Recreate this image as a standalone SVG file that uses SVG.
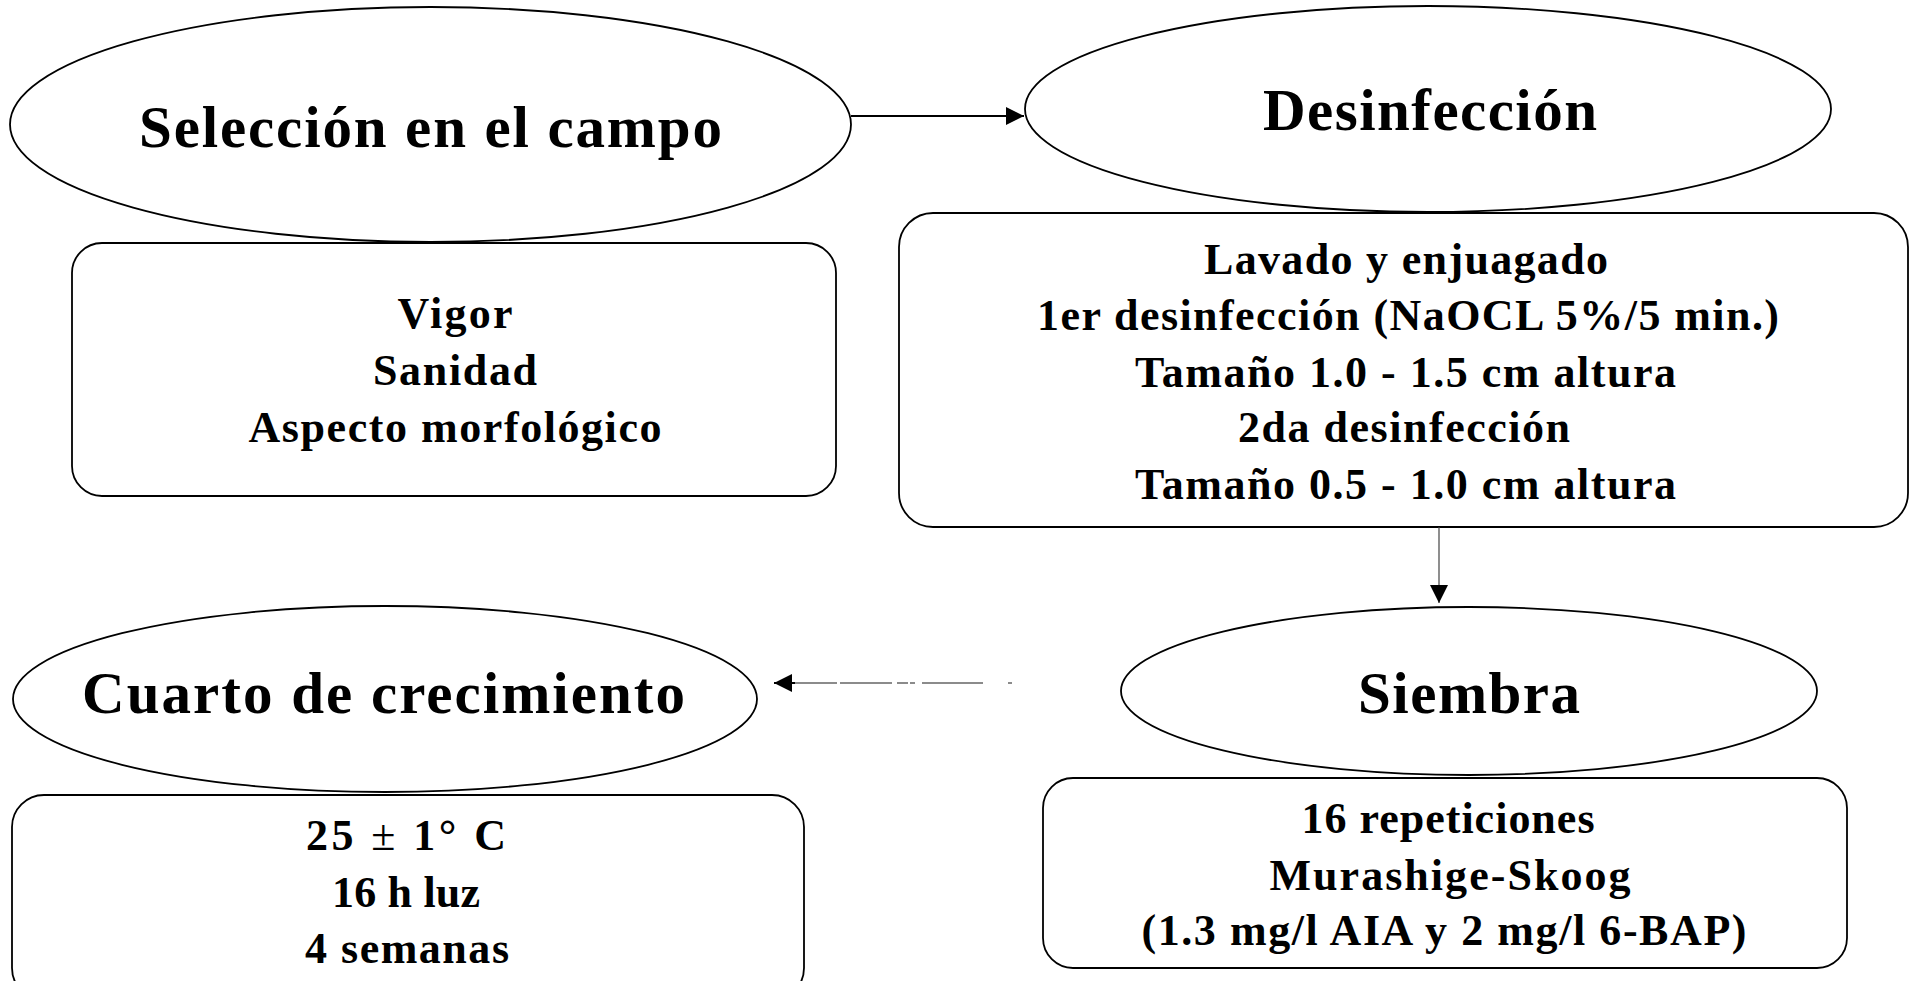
<svg xmlns="http://www.w3.org/2000/svg" width="1916" height="981" viewBox="0 0 1916 981">
<style>
  .shape { fill: #ffffff; stroke: #000000; stroke-width: 1.8; }
  .big { font-family: "Liberation Serif", "Times New Roman", serif; font-weight: bold; font-size: 59px; fill: #000; text-anchor: middle; }
  .small { font-family: "Liberation Serif", "Times New Roman", serif; font-weight: bold; font-size: 44px; fill: #000; text-anchor: middle; }
  .pm { font-weight: normal; }
  .conn { stroke: #000; stroke-width: 2; fill: none; }
  .thin { stroke: #444; stroke-width: 1.2; fill: none; }
  .dashed { stroke: #666; stroke-width: 1.6; fill: none; stroke-dasharray: 4 25 61 7 5 2 11 5 52 3 44; }
</style>
<defs>
  <marker id="arrow" viewBox="0 0 18 18" refX="18" refY="9" markerWidth="18" markerHeight="18" markerUnits="userSpaceOnUse" orient="auto">
    <path d="M0,0 L18,9 L0,18 z" fill="#000"/>
  </marker>
</defs>
<rect width="1916" height="981" fill="#ffffff"/>

<g id="node-seleccion-detalle">
  <rect class="shape" x="72" y="243" width="764" height="253" rx="30" ry="30"/>
  <text class="small" x="455" y="328" textLength="115">Vigor</text>
  <text class="small" x="455" y="385" textLength="164">Sanidad</text>
  <text class="small" x="455" y="442" textLength="413">Aspecto morfológico</text>
</g>
<g id="node-seleccion">
  <ellipse class="shape" cx="430.5" cy="124.5" rx="420.5" ry="117.5"/>
  <text class="big" x="430.5" y="147" textLength="583">Selección en el campo</text>
</g>

<g id="node-desinfeccion-detalle">
  <rect class="shape" x="899" y="213" width="1009" height="314" rx="34" ry="34"/>
  <text class="small" x="1406" y="274" textLength="404">Lavado y enjuagado</text>
  <text class="small" x="1408" y="330" textLength="742">1er desinfección (NaOCL 5%/5 min.)</text>
  <text class="small" x="1405.5" y="387" textLength="541">Tamaño 1.0 - 1.5 cm altura</text>
  <text class="small" x="1404" y="442" textLength="332">2da desinfección</text>
  <text class="small" x="1405.5" y="499" textLength="541">Tamaño 0.5 - 1.0 cm altura</text>
</g>
<g id="node-desinfeccion">
  <ellipse class="shape" cx="1428" cy="109" rx="403" ry="103"/>
  <text class="big" x="1430" y="130" textLength="334">Desinfección</text>
</g>

<g id="node-siembra-detalle">
  <rect class="shape" x="1043" y="778" width="804" height="190" rx="30" ry="30"/>
  <text class="small" x="1448" y="833" textLength="293">16 repeticiones</text>
  <text class="small" x="1450" y="890" textLength="361">Murashige-Skoog</text>
  <text class="small" x="1444" y="945" textLength="605">(1.3 mg/l AIA y 2 mg/l 6-BAP)</text>
</g>
<g id="node-siembra">
  <ellipse class="shape" cx="1469" cy="691" rx="348" ry="84"/>
  <text class="big" x="1469" y="713" textLength="222">Siembra</text>
</g>

<g id="node-cuarto-detalle">
  <rect class="shape" x="12" y="795" width="792" height="205" rx="32" ry="32"/>
  <text class="small" x="406" y="850" textLength="200">25 <tspan class="pm">±</tspan>  1° C</text>
  <text class="small" x="406" y="907" textLength="148">16 h luz</text>
  <text class="small" x="407" y="963" textLength="204">4 semanas</text>
</g>
<g id="node-cuarto">
  <ellipse class="shape" cx="385" cy="699" rx="372" ry="93"/>
  <text class="big" x="383.5" y="713" textLength="603">Cuarto de crecimiento</text>
</g>

<g id="connectors">
  <line class="conn" x1="851" y1="116" x2="1024" y2="116" marker-end="url(#arrow)"/>
  <line class="thin" x1="1439" y1="527" x2="1439" y2="603" marker-end="url(#arrow)"/>
  <line class="dashed" x1="1012" y1="683" x2="793" y2="683"/>
  <line class="conn" x1="795" y1="683" x2="774" y2="683" marker-end="url(#arrow)" stroke-width="1"/>
</g>
</svg>
